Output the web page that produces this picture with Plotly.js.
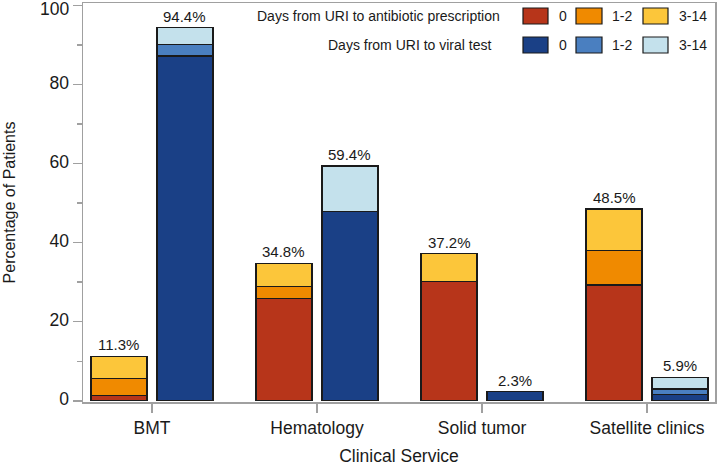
<!DOCTYPE html>
<html>
<head>
<meta charset="utf-8">
<script src="https://cdn.plot.ly/plotly-3.0.1.min.js"></script>
<style>html,body{margin:0;padding:0;background:#fff;}#chart{width:718px;height:466px;}</style>
</head>
<body>
<div id="chart"></div>
<script>
// ---- data ----
var categories = ['BMT', 'Hematology', 'Solid tumor', 'Satellite clinics'];
var abx0   = [1.3, 25.9, 30.1, 29.3];
var abx12  = [4.3, 3.0, 0, 8.8];
var abx314 = [5.7, 5.9, 7.1, 10.4];
var vir0   = [87.2, 47.8, 2.3, 1.5];
var vir12  = [2.9, 0, 0, 1.5];
var vir314 = [4.3, 11.6, 0, 2.9];
var abxTotalLabels = ['11.3%', '34.8%', '37.2%', '48.5%'];
var virTotalLabels = ['94.4%', '59.4%', '2.3%', '5.9%'];
var yTickVals = [0, 20, 40, 60, 80, 100];
var yTickText = ['0', '20', '40', '60', '80', '100'];
var legendLevels = ['0', '1-2', '3-14'];
var legendTitles = ['Days from URI to antibiotic prescription', 'Days from URI to viral test'];

// ---- style ----
var abxColors = ['#B7351A', '#F08A00', '#FCC63A'];
var virColors = ['#1A4086', '#4A7FC0', '#C4E1EC'];
var OFF = 0.2, W = 0.34;
var FONT = 'Liberation Sans, Arial, Helvetica, sans-serif';
var TXT = '#1a1a1a';
var GRAY = '#a0a0a0';
var TICKSIZE = 17.5;

var xAbx = categories.map(function (c, i) { return i - OFF; });
var xVir = categories.map(function (c, i) { return i + OFF; });

function bar(x, y, color, name) {
  return {
    type: 'bar', x: x, y: y, width: W, name: name,
    marker: { color: color, line: { color: '#1a1a1a', width: 1.2 } },
    showlegend: false, hoverinfo: 'y'
  };
}

var abxSeries = [abx0, abx12, abx314];
var virSeries = [vir0, vir12, vir314];
var traces = [];
abxSeries.forEach(function (s, k) { traces.push(bar(xAbx, s, abxColors[k], 'Antibiotic ' + legendLevels[k])); });
virSeries.forEach(function (s, k) { traces.push(bar(xVir, s, virColors[k], 'Viral test ' + legendLevels[k])); });

function sum3(a, b, c, i) { return a[i] + b[i] + c[i]; }

var annotations = [];
categories.forEach(function (c, i) {
  annotations.push({ x: xAbx[i], y: sum3(abx0, abx12, abx314, i), xref: 'x', yref: 'y', text: abxTotalLabels[i],
    showarrow: false, yanchor: 'bottom', yshift: 1, font: { family: FONT, size: 15, color: TXT } });
  annotations.push({ x: xVir[i], y: sum3(vir0, vir12, vir314, i), xref: 'x', yref: 'y', text: virTotalLabels[i],
    showarrow: false, yanchor: 'bottom', yshift: 1, font: { family: FONT, size: 15, color: TXT } });
});

// top tick label (Plotly hides it because it overflows the page top)
var lastIdx = yTickVals.length - 1;
annotations.push({ xref: 'paper', yref: 'y', x: 0, y: yTickVals[lastIdx], xanchor: 'right', yanchor: 'middle',
  xshift: -12, yshift: -4, text: yTickText[lastIdx], showarrow: false, font: { family: FONT, size: TICKSIZE, color: TXT } });
var yTickTextShown = yTickText.map(function (t, i) { return i === lastIdx ? ' ' : t; });

// ---- custom legend (paper coords) ----
var plotL = 83, plotR = 715, plotT = 3, plotB = 402;
function px(x) { return (x - plotL) / (plotR - plotL); }
function py(y) { return (plotB - y) / (plotB - plotT); }
var boxX = [[523, 548], [576, 602], [643, 668]];
var lblX = [557, 610, 677];
var rows = [{ y0: 8, y1: 24, colors: abxColors, titleRight: 502 },
            { y0: 37, y1: 53, colors: virColors, titleRight: 493 }];
var shapes = [];
rows.forEach(function (r, ri) {
  boxX.forEach(function (b, k) {
    shapes.push({ type: 'rect', xref: 'paper', yref: 'paper', x0: px(b[0]), x1: px(b[1]), y0: py(r.y1), y1: py(r.y0),
      fillcolor: r.colors[k], line: { color: '#1a1a1a', width: 1.2 } });
    annotations.push({ xref: 'paper', yref: 'paper', x: px(lblX[k]), y: py((r.y0 + r.y1) / 2), xanchor: 'left', yanchor: 'middle',
      text: legendLevels[k], showarrow: false, font: { family: FONT, size: 14, color: TXT } });
  });
  annotations.push({ xref: 'paper', yref: 'paper', x: px(r.titleRight), y: py((r.y0 + r.y1) / 2), xanchor: 'right', yanchor: 'middle',
    text: legendTitles[ri], showarrow: false, font: { family: FONT, size: 14, color: TXT } });
});

var layout = {
  width: 718, height: 466,
  margin: { l: plotL, r: 718 - plotR, t: plotT, b: 466 - plotB },
  paper_bgcolor: '#fff', plot_bgcolor: '#fff',
  barmode: 'stack',
  font: { family: FONT, color: TXT },
  showlegend: false,
  xaxis: {
    range: [-0.418, 3.412], tickmode: 'array', tickvals: [0, 1, 2, 3], ticktext: categories,
    ticks: 'outside', ticklen: 9, tickwidth: 1.5, tickcolor: GRAY,
    showline: true, linecolor: GRAY, linewidth: 1.5, mirror: true,
    showgrid: false, zeroline: false,
    tickfont: { family: FONT, size: TICKSIZE, color: TXT },
    title: { text: 'Clinical Service', font: { family: FONT, size: 17.5, color: TXT }, standoff: 13 }
  },
  yaxis: {
    range: [-0.3, 100.6], tickmode: 'array', tickvals: yTickVals, ticktext: yTickTextShown,
    ticks: 'outside', ticklen: 9, tickwidth: 1.5, tickcolor: GRAY, ticklabelshift: -2,
    minor: { tickmode: 'array', tickvals: [10, 30, 50, 70, 90], ticks: 'outside', ticklen: 5, tickwidth: 1.5, tickcolor: GRAY, showgrid: false },
    showline: true, linecolor: GRAY, linewidth: 1.5, mirror: true,
    showgrid: false, zeroline: false,
    tickfont: { family: FONT, size: TICKSIZE, color: TXT },
    title: { text: 'Percentage of Patients', font: { family: FONT, size: 16, color: TXT }, standoff: 30 }
  },
  shapes: shapes,
  annotations: annotations
};

Plotly.newPlot('chart', traces, layout, { displayModeBar: false, staticPlot: true });
</script>
</body>
</html>
